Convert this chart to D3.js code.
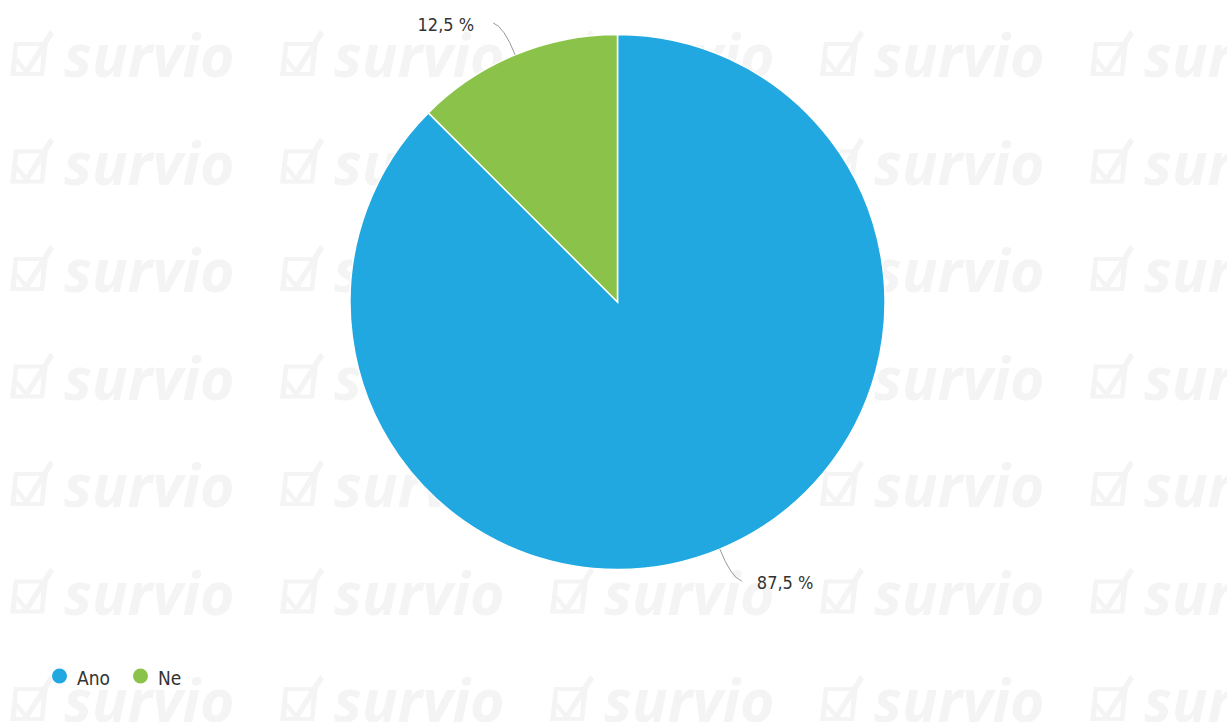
<!DOCTYPE html>
<html><head><meta charset="utf-8">
<script src="https://cdn.jsdelivr.net/npm/d3@7/dist/d3.min.js"></script>
<style>html,body{margin:0;padding:0;background:#fff;}svg{display:block;}
.lbl{font-family:"DejaVu Sans Condensed","DejaVu Sans",sans-serif;font-stretch:condensed;}</style>
</head><body>
<svg id="c" width="1227" height="722"></svg>
<script>
const categories = ["Ano", "Ne"];
const values = [87.5, 12.5];
const labels = ["87,5 %", "12,5 %"];
const colors = ["#21a8e0", "#8bc34a"];

const svg = d3.select("#c");

// watermark
const wm = svg.append("g").attr("fill", "#f4f4f4");
const colsX = d3.range(5).map(i => 12 + i * 270);
const rowsY = d3.range(7).map(i => 60 + i * 107.5);
rowsY.forEach(y => colsX.forEach(x => {
  const g = wm.append("g").attr("transform", `translate(${x},${y})`);
  g.append("path").attr("d", "M2,-18 L36,-18 L32,16 L-2,16 Z M6,-14 L4,12 L28,12 L30,-14 Z").attr("fill-rule","evenodd");
  g.append("path").attr("d", "M6,-2 L14,8 L38,-30 L42,-26 L15,16 L2,0 Z");
  g.append("text").attr("x", 52).attr("y", 17).attr("font-family", "Open Sans, sans-serif")
    .attr("font-weight", "bold").attr("font-style", "italic").attr("font-size", 59).text("survio");
}));

const cx = 617.5, cy = 302, r = 267.5;
const pie = d3.pie().sort(null).value(d => d)(values);
const arc = d3.arc().innerRadius(0).outerRadius(r);
const g = svg.append("g").attr("transform", `translate(${cx},${cy})`);
g.selectAll("path.s").data(pie).join("path").attr("class", "s")
  .attr("d", arc).attr("fill", (d, i) => colors[i]).attr("stroke", "#fff").attr("stroke-width", 1.5);

// labels with curved connectors
pie.forEach((d, i) => {
  const a = (d.startAngle + d.endAngle) / 2;
  const sx = Math.sin(a), sy = -Math.cos(a);
  const hx = sx > 0 ? 1 : -1, hy = sy > 0 ? 1 : -1;
  const p0 = [r * sx, r * sy];
  const p1 = [p0[0] + hx * 11, p0[1] + hy * 28];
  const p2 = [p0[0] + hx * 22, p0[1] + hy * 32];
  g.append("path").attr("d", `M${p0[0]},${p0[1]} Q${p1[0]},${p1[1]} ${p2[0]},${p2[1]}`)
    .attr("fill", "none").attr("stroke", "#999").attr("stroke-width", 1);
  g.append("text").attr("class", "lbl").attr("x", p2[0] + hx * (hx > 0 ? 15 : 19)).attr("y", p2[1] + 8)
    .attr("text-anchor", hx > 0 ? "start" : "end")
    .attr("font-size", 18).attr("fill", "#333")
    .text(labels[i]);
});

// legend
const lg = svg.append("g");
const lx = [59.5, 140.5];
categories.forEach((c, i) => {
  lg.append("circle").attr("cx", lx[i]).attr("cy", 676).attr("r", 7.5).attr("fill", colors[i]);
  lg.append("text").attr("class", "lbl").attr("x", lx[i] + 17.5).attr("y", 685)
    .attr("font-size", 19).attr("fill", "#333").text(c);
});
</script>
</body></html>
